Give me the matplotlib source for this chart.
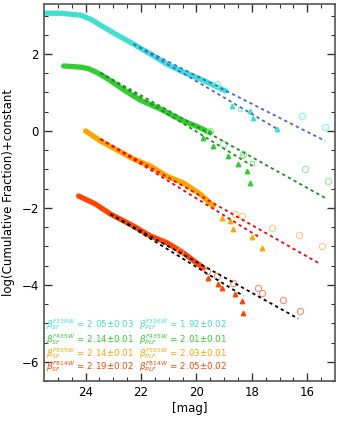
import matplotlib.pyplot as plt
import numpy as np

# colours per filter
cols = {'F336W': '#40E0D0', 'F435W': '#32CD32', 'F555W': '#FFA500', 'F814W': '#FF4500'}
light = {'F336W': '#7FFFD4', 'F435W': '#98E898', 'F555W': '#FFC880', 'F814W': '#FF8C69'}
fitcol = {'F336W': '#4169E1', 'F435W': '#228B22', 'F555W': '#FF0000', 'F814W': '#000000'}
filters = ['F336W', 'F435W', 'F555W', 'F814W']

# main cumulative curves (mag, log fraction + const)
band_mag = {
    'F336W': [25.48, 24.90, 24.18, 23.80, 23.46, 22.92, 22.27, 21.66, 21.05, 20.47, 19.86, 19.32, 18.95],
    'F435W': [24.79, 24.18, 23.90, 23.64, 23.21, 22.56, 22.02, 21.30, 20.47, 19.86, 19.50],
    'F555W': [24.00, 23.46, 22.27, 21.66, 21.05, 20.47, 19.86, 19.39],
    'F814W': [24.25, 23.64, 23.10, 22.27, 21.66, 21.05, 20.47, 19.75],
}
band_y = {
    'F336W': [3.06, 3.06, 3.01, 2.90, 2.75, 2.52, 2.26, 2.00, 1.73, 1.53, 1.35, 1.17, 1.04],
    'F435W': [1.69, 1.66, 1.62, 1.54, 1.36, 1.04, 0.80, 0.57, 0.26, 0.08, -0.05],
    'F555W': [0.00, -0.26, -0.73, -0.91, -1.18, -1.35, -1.64, -1.95],
    'F814W': [-1.69, -1.90, -2.16, -2.47, -2.73, -2.91, -3.17, -3.56],
}

# bright-end open circles
circ_mag = {
    'F336W': [19.24, 16.18, 15.35],
    'F435W': [19.50, 19.03, 18.31, 16.07, 15.24],
    'F555W': [18.59, 18.34, 17.26, 16.29, 15.46],
    'F814W': [20.58, 19.60, 19.24, 18.67, 17.77, 17.62, 16.86, 16.25],
}
circ_y = {
    'F336W': [1.22, 0.39, 0.10],
    'F435W': [0.00, -0.34, -0.60, -0.99, -1.30],
    'F555W': [-2.16, -2.21, -2.52, -2.70, -2.99],
    'F814W': [-3.12, -3.64, -3.77, -3.95, -4.08, -4.21, -4.39, -4.68],
}
# open squares
sq_mag = {'F336W': [18.41], 'F435W': [18.34, 17.98], 'F555W': [], 'F814W': []}
sq_y = {'F336W': [0.57], 'F435W': [-0.65, -0.83], 'F555W': [], 'F814W': []}
# filled triangles
tri_mag = {
    'F336W': [18.70, 18.05, 17.95, 17.08],
    'F435W': [19.75, 19.39, 18.85, 18.49, 18.16, 18.05],
    'F555W': [19.06, 18.77, 18.67, 17.98, 17.62],
    'F814W': [19.57, 19.21, 19.06, 18.59, 18.34, 18.31],
}
tri_y = {
    'F336W': [0.65, 0.52, 0.34, 0.05],
    'F435W': [-0.18, -0.39, -0.65, -0.86, -1.04, -1.35],
    'F555W': [-2.26, -2.34, -2.55, -2.75, -3.04],
    'F814W': [-3.82, -3.97, -4.08, -4.23, -4.42, -4.73],
}

# fit lines: [start mag, end mag], [start y, end y]
fitA_mag = {'F336W': [22.27, 15.35], 'F435W': [23.46, 15.28], 'F555W': [23.46, 15.60], 'F814W': [23.10, 16.32]}
fitA_y = {'F336W': [2.26, -0.26], 'F435W': [1.51, -1.77], 'F555W': [-0.21, -3.43], 'F814W': [-2.16, -4.88]}
fitB_mag = {'F336W': [22.27, 17.08], 'F435W': [23.46, 17.98], 'F555W': [23.46, 17.69], 'F814W': [23.10, 18.30]}
fitB_y = {'F336W': [2.26, 0.05], 'F435W': [1.51, -0.91], 'F555W': [-0.21, -2.78], 'F814W': [-2.16, -4.29]}

beta_sf = ['2.05±0.03', '2.14±0.01', '2.14±0.01', '2.19±0.02']
beta_plf = ['1.92±0.02', '2.01±0.01', '2.03±0.01', '2.05±0.02']

plt.rcParams['font.family'] = 'DejaVu Sans'
fig = plt.figure(figsize=(3.38, 4.23), dpi=100)
ax = fig.add_axes([0.130, 0.0993, 0.861, 0.8912])

for f in filters:
    c = cols[f]
    ax.plot(band_mag[f], band_y[f], color=c, lw=3.8, solid_capstyle='round',
            solid_joinstyle='round', zorder=2)
    ax.plot(circ_mag[f], circ_y[f], 'o', mfc='none', mec=light[f], ms=4.5, mew=0.8, zorder=3)
    ax.plot(sq_mag[f], sq_y[f], 's', mfc='none', mec=light[f], ms=3.5, mew=0.8, zorder=3)
    ax.plot(tri_mag[f], tri_y[f], '^', color=c, ms=3.2, zorder=3)
    ax.plot(fitA_mag[f], fitA_y[f], color=fitcol[f], lw=1.3, dashes=(1.8, 1.8), zorder=4)
    ax.plot(fitB_mag[f], fitB_y[f], color=fitcol[f], lw=1.3, dashes=(1.8, 1.8), zorder=4)

# beta labels
rows = [0.149, 0.111, 0.074, 0.037]
for i, f in enumerate(filters):
    ax.text(0.008, rows[i], r'$\beta_{SF}^{%s}$ = %s' % (f, beta_sf[i]), color=cols[f],
            fontsize=6.3, va='center', transform=ax.transAxes)
    ax.text(0.325, rows[i], r'$\beta_{PLF}^{%s}$ = %s' % (f, beta_plf[i]), color=cols[f],
            fontsize=6.3, va='center', transform=ax.transAxes)

ax.set_xlim(25.5, 15.0)
ax.set_ylim(-6.5, 3.3)
ax.set_xticks([24, 22, 20, 18, 16])
ax.set_xticks(np.arange(15.5, 25.5, 0.5), minor=True)
ax.set_yticks([-6, -4, -2, 0, 2])
ax.set_yticks(np.arange(-6.5, 3.3, 0.5), minor=True)
ax.tick_params(which='both', direction='in', top=True, right=True, labelsize=8.5, color='#333333')
ax.tick_params(which='major', length=6, width=1.0)
ax.tick_params(which='minor', length=3, width=0.8)
for s in ax.spines.values():
    s.set_color('#555555')
    s.set_linewidth(1.2)
ax.set_xlabel('[mag]', fontsize=8.5, labelpad=2)
ax.set_ylabel('log(Cumulative Fraction)+constant', fontsize=8.5, labelpad=5)

plt.savefig('out.png', dpi=100)
